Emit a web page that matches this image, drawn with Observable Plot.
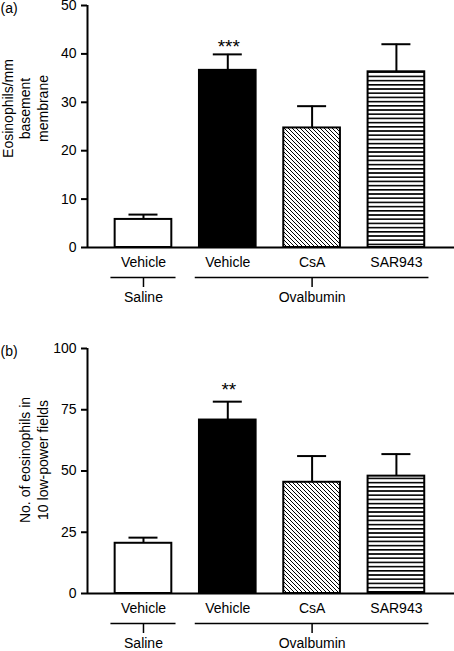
<!DOCTYPE html>
<html><head><meta charset="utf-8">
<script src="https://cdn.jsdelivr.net/npm/d3@7"></script>
<script src="https://cdn.jsdelivr.net/npm/@observablehq/plot@0.6"></script>
<style>
body{margin:0;background:#fff;}
#chart{width:454px;height:651px;position:relative;}
#chart svg{display:block;}
</style></head><body>
<svg width="0" height="0" style="position:absolute">
<defs>
<pattern id="diag" patternUnits="userSpaceOnUse" width="4" height="4">
<rect width="4" height="4" fill="white"/>
<path d="M-1,-1 L5,5 M-1,3 L1,5 M3,-1 L5,1" stroke="black" stroke-width="1"/>
</pattern>
<pattern id="horiz" patternUnits="userSpaceOnUse" width="8" height="4.2">
<rect width="8" height="4.2" fill="white"/>
<rect y="0" width="8" height="1.6" fill="black"/>
</pattern>
</defs></svg>
<div id="chart"></div>
<script>
// ---- data ----
const treatments = ["Vehicle", "Vehicle", "CsA", "SAR943"];
const groups = ["Saline", "Ovalbumin"];
const groupOf = [0, 1, 1, 1];
const meansA = [5.8, 36.6, 24.7, 36.3];
const semA = [1.0, 3.3, 4.5, 5.7];
const meansB = [20.5, 70.8, 45.4, 47.9];
const semB = [2.3, 7.5, 10.7, 9.0];
const sigA = ["", "***", "", ""];
const sigB = ["", "**", "", ""];
const ticksA = [0, 10, 20, 30, 40, 50];
const ticksB = [0, 25, 50, 75, 100];
const labelA = "Eosinophils/mm\nbasement\nmembrane";
const labelB = "No. of eosinophils in\n10 low-power fields";

// ---- styles ----
const fills = ["white", "black", "url(#diag)", "url(#horiz)"];
const FONT = '"Liberation Sans", Arial, Helvetica, sans-serif';

function panel({means, sems, sig, ticks, ymax, height, mt, mb, letter, ylabel, ylabelDx, ylabelDy, starDy}) {
  const mL = 87, W = 454;
  const hw = 0.336, cap = 0.172, pad = 0.05;
  const xDomain = [-0.664, 3.689];
  const bars = treatments.map((t, i) => ({i, t, mean: means[i], top: means[i] + sems[i], sig: sig[i]}));
  const grp = groups.map((g, j) => {
    const idx = bars.filter(b => groupOf[b.i] === j).map(b => b.i);
    const x1 = d3.min(idx) - hw - pad, x2 = d3.max(idx) + hw + pad;
    return {g, x1, x2, mid: (x1 + x2) / 2};
  });
  const k = (height - mt - mb) / ymax;
  return Plot.plot({
    width: W, height,
    marginLeft: mL, marginRight: 0, marginTop: mt, marginBottom: mb,
    x: {domain: xDomain, axis: null},
    y: {domain: [0, ymax], axis: null},
    color: {type: "identity"},
    style: {fontFamily: FONT, fontSize: "14px", color: "black", background: "white", overflow: "visible"},
    marks: [
      Plot.rect(bars, {x1: d => d.i - hw, x2: d => d.i + hw, y1: 0, y2: "mean", fill: d => fills[d.i], stroke: "black", strokeWidth: 2}),
      Plot.ruleX(bars, {x: "i", y1: "mean", y2: "top", stroke: "black", strokeWidth: 2}),
      Plot.ruleY(bars, {y: "top", x1: d => d.i - cap, x2: d => d.i + cap, stroke: "black", strokeWidth: 2}),
      Plot.text(bars.filter(d => d.sig), {x: "i", y: "top", text: "sig", dx: 1, dy: starDy, lineAnchor: "middle", fontSize: 19, fill: "black", style: "letter-spacing:2px"}),
      Plot.ruleX([xDomain[0]], {stroke: "black", strokeWidth: 2}),
      Plot.ruleY([0], {stroke: "black", strokeWidth: 2}),
      Plot.axisY({ticks, tickSize: 6, tickPadding: 5, stroke: "black", strokeWidth: 2, fontSize: 14, fill: "black", label: null}),
      Plot.text(bars, {x: "i", y: 0, dy: 15, text: "t", lineAnchor: "middle", fontSize: 14, fill: "black"}),
      Plot.ruleY(grp, {y: 0, dy: 30, x1: "x1", x2: "x2", stroke: "black", strokeWidth: 1.5}),
      Plot.ruleX(grp, {x: "mid", y1: 0, y2: -10 / k, dy: 30, stroke: "black", strokeWidth: 1.5}),
      Plot.text(grp, {x: "mid", y: 0, dy: 50.5, text: "g", lineAnchor: "middle", fontSize: 14, fill: "black"}),
      Plot.text([letter], {frameAnchor: "top-left", dx: -mL, dy: 3, textAnchor: "start", lineAnchor: "middle", fontSize: 14, fill: "black"}),
      Plot.text([ylabel], {frameAnchor: "left", dx: -mL + ylabelDx, dy: ylabelDy, rotate: -90, lineAnchor: "top", textAnchor: "middle", lineHeight: 1.25, fontSize: 14, fill: "black"})
    ]
  });
}

const chart = document.getElementById("chart");
chart.append(panel({means: meansA, sems: semA, sig: sigA, ticks: ticksA, ymax: 50, height: 318, mt: 5, mb: 71, letter: "(a)", ylabel: labelA, ylabelDx: 0, ylabelDy: -18, starDy: -7.6}));
chart.append(panel({means: meansB, sems: semB, sig: sigB, ticks: ticksB, ymax: 100, height: 333, mt: 30, mb: 58, letter: "(b)", ylabel: labelB, ylabelDx: 17.5, ylabelDy: -11, starDy: -11.6}));
</script>
</body></html>
